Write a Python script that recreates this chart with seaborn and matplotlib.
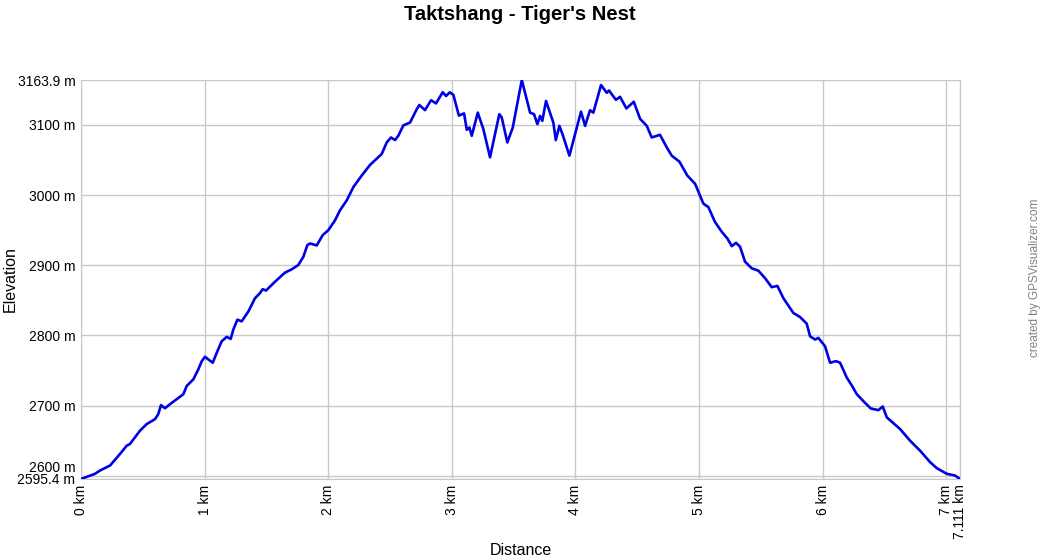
import numpy as np
import pandas as pd
import seaborn as sns
import matplotlib
matplotlib.use('Agg')
import matplotlib.pyplot as plt
import matplotlib.transforms as mtransforms

# Elevation profile (km, metres)
distance_km = [
    0.000, 0.113, 0.154, 0.235, 0.316, 0.370, 0.396, 0.477, 0.532, 0.599,
    0.625, 0.647, 0.680, 0.720, 0.774, 0.828, 0.855, 0.909, 0.949, 0.977,
    1.003, 1.030, 1.066, 1.098, 1.138, 1.179, 1.211, 1.232, 1.265, 1.300,
    1.354, 1.408, 1.448, 1.470, 1.497, 1.570, 1.650, 1.705, 1.758, 1.799,
    1.831, 1.853, 1.907, 1.955, 2.001, 2.055, 2.095, 2.150, 2.203, 2.271,
    2.338, 2.433, 2.473, 2.508, 2.540, 2.567, 2.608, 2.662, 2.716, 2.737,
    2.783, 2.832, 2.872, 2.926, 2.953, 2.983, 3.012, 3.057, 3.099, 3.121,
    3.142, 3.161, 3.210, 3.255, 3.309, 3.384, 3.404, 3.449, 3.493, 3.566,
    3.633, 3.665, 3.692, 3.714, 3.732, 3.762, 3.821, 3.841, 3.870, 3.897,
    3.951, 3.983, 4.011, 4.045, 4.078, 4.118, 4.145, 4.207, 4.253, 4.272,
    4.327, 4.361, 4.412, 4.472, 4.523, 4.577, 4.617, 4.684, 4.739, 4.779,
    4.841, 4.905, 4.968, 5.035, 5.075, 5.129, 5.184, 5.229, 5.265, 5.299,
    5.332, 5.372, 5.426, 5.480, 5.534, 5.588, 5.634, 5.682, 5.763, 5.817,
    5.871, 5.898, 5.939, 5.965, 6.019, 6.060, 6.108, 6.141, 6.195, 6.235,
    6.276, 6.335, 6.389, 6.451, 6.486, 6.519, 6.626, 6.707, 6.788, 6.869,
    6.923, 7.004, 7.071, 7.111,
]
elevation_m = [
    2595.4, 2602.8, 2607.5, 2614.6, 2631.2, 2642.9, 2645.3, 2664.2, 2673.7, 2680.7,
    2687.8, 2700.6, 2696.3, 2702.0, 2709.1, 2716.2, 2727.9, 2737.4, 2751.6, 2763.3,
    2769.6, 2765.7, 2761.1, 2775.2, 2791.6, 2797.9, 2795.0, 2808.2, 2822.4, 2820.0,
    2834.1, 2853.1, 2860.2, 2865.9, 2863.9, 2876.6, 2889.4, 2894.2, 2900.3, 2912.0,
    2928.6, 2931.0, 2928.2, 2942.8, 2949.9, 2964.0, 2978.2, 2992.4, 3011.2, 3027.8,
    3042.9, 3058.5, 3074.9, 3082.0, 3078.3, 3084.4, 3099.3, 3103.3, 3122.2, 3128.3,
    3121.0, 3135.1, 3130.5, 3146.5, 3141.1, 3146.3, 3142.9, 3113.2, 3116.3, 3092.9,
    3096.2, 3084.4, 3117.4, 3093.9, 3053.7, 3115.2, 3110.3, 3074.9, 3096.2, 3163.9,
    3117.4, 3115.2, 3101.0, 3112.7, 3105.7, 3134.0, 3103.3, 3078.3, 3098.6, 3085.8,
    3056.1, 3077.3, 3096.2, 3118.8, 3098.6, 3120.8, 3117.4, 3156.7, 3145.7, 3148.9,
    3135.7, 3139.9, 3123.4, 3132.9, 3108.5, 3098.6, 3082.0, 3085.8, 3067.8, 3056.1,
    3047.6, 3027.8, 3016.0, 2987.7, 2982.9, 2961.6, 2947.5, 2938.1, 2927.2, 2931.9,
    2926.2, 2905.0, 2895.6, 2892.2, 2881.5, 2868.7, 2870.5, 2853.1, 2831.9, 2826.2,
    2816.7, 2798.7, 2794.1, 2796.5, 2784.6, 2761.1, 2763.3, 2761.1, 2739.8, 2728.9,
    2716.2, 2705.3, 2695.9, 2693.5, 2698.7, 2683.2, 2666.6, 2650.0, 2635.8, 2619.4,
    2610.9, 2602.8, 2600.4, 2595.4,
]

x_ticks = [0, 1, 2, 3, 4, 5, 6, 7, 7.111]
x_tick_labels = ["0 km", "1 km", "2 km", "3 km", "4 km", "5 km", "6 km", "7 km", "7.111 km"]
y_ticks = [2595.4, 2600, 2700, 2800, 2900, 3000, 3100, 3163.9]
y_tick_labels = ["2595.4 m", "2600 m", "2700 m", "2800 m", "2900 m", "3000 m", "3100 m", "3163.9 m"]

df = pd.DataFrame({"Distance": distance_km, "Elevation": elevation_m})

sns.set_style("white")
plt.rcParams['font.family'] = ['Liberation Sans', 'DejaVu Sans']
plt.rcParams.update({"text.color": "black", "axes.labelcolor": "black",
                     "xtick.labelcolor": "black", "ytick.labelcolor": "black"})

fig = plt.figure(figsize=(10.4, 5.6), dpi=100)
ax = fig.add_axes([81 / 1040, 1 - 479 / 560, 879 / 1040, 399 / 560])

sns.lineplot(data=df, x="Distance", y="Elevation", ax=ax, color="#0000e6", linewidth=1.9, zorder=3)

ax.set_xlim(0, 7.111)
ax.set_ylim(2595.4, 3163.9)
ax.set_xticks(x_ticks)
ax.set_xticklabels(x_tick_labels, rotation=90, fontsize=10)
ax.set_yticks(y_ticks)
ax.set_yticklabels(y_tick_labels, fontsize=10)
ax.grid(True, color="#c8c8c8", linewidth=1)
ax.tick_params(length=2, color="#c8c8c8", pad=2)
for s in ax.spines.values():
    s.set_color("#c8c8c8")

# nudge the "2600 m" label up so it clears the minimum label
lbl = ax.get_yticklabels()[1]
lbl.set_transform(lbl.get_transform() + mtransforms.ScaledTranslation(0, 0.09, fig.dpi_scale_trans))

ax.set_xlabel("Distance", fontsize=11.5)
ax.set_ylabel("Elevation", fontsize=11.5)
ax.xaxis.set_label_coords(0.5, -0.160)
ax.yaxis.set_label_coords(-0.072, 0.5)

fig.text(0.5, 1 - 14 / 560, "Taktshang - Tiger's Nest", ha="center", va="center",
         fontsize=14.5, fontweight="bold")
fig.text(1035 / 1040, 1 - 278 / 560, "created by GPSVisualizer.com", rotation=90,
         ha="center", va="center", fontsize=8.5, color="#808080")

plt.savefig("out.png", dpi=100)
plt.close()
